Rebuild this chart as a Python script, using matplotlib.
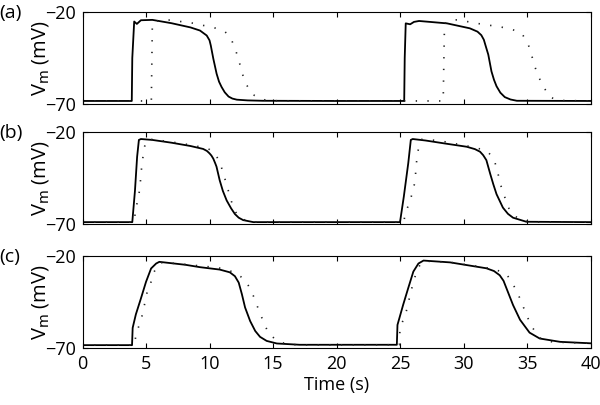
import numpy as np
import matplotlib
matplotlib.use('Agg')
import matplotlib.pyplot as plt

plt.rcParams['font.family'] = ['Open Sans', 'DejaVu Sans']

# panel (a)
t_a_solid = [0, 3.88, 3.92, 4.07, 4.28, 4.6, 5.5, 7.0, 8.5, 9.25, 9.78, 10.0, 10.1, 10.3, 10.56, 10.75, 10.95,
             11.2, 11.5, 11.8, 12.15, 13.0, 14.2, 20.0, 25.33, 25.37, 25.45, 25.8, 26.1, 26.5, 28.7, 30.5, 31.1,
             31.4, 31.6, 31.75, 31.95, 32.2, 32.4, 32.6, 32.9, 33.25, 33.7, 34.2, 40.0]
v_a_solid = [-68.3, -68.3, -45.0, -25.1, -26.4, -24.4, -24.2, -26.0, -28.3, -30.0, -32.7, -35.3, -38.1, -45.3,
             -53.5, -57.8, -60.7, -63.6, -65.9, -67.0, -67.6, -68.0, -68.2, -68.3, -68.3, -45.0, -26.1, -26.6,
             -25.3, -24.8, -26.1, -28.8, -30.6, -32.5, -35.0, -38.5, -43.1, -52.2, -56.8, -60.3, -63.8, -66.2,
             -67.5, -68.2, -68.3]
t_a_dot = [0, 5.42, 5.5, 6.0, 6.8, 7.6, 8.55, 9.5, 10.3, 11.2, 11.45, 11.75, 12.1, 12.35, 12.6, 12.93, 13.4,
           14.2, 15.5, 28.4, 28.5, 28.6, 29.2, 29.6, 30.2, 31.05, 32.0, 32.9, 33.8, 34.3, 34.65, 35.1, 35.35,
           35.6, 35.9, 36.3, 36.8, 37.5, 40.0]
v_a_dot = [-68.3, -68.3, -26.0, -24.5, -24.3, -25.0, -25.8, -27.2, -28.3, -30.5, -32.3, -35.3, -41.6, -47.3,
           -53.8, -59.7, -64.8, -67.6, -68.3, -68.3, -27.0, -25.5, -24.2, -24.2, -25.0, -26.1, -27.1, -28.0,
           -29.4, -30.5, -32.2, -37.6, -43.1, -49.3, -55.0, -60.6, -66.2, -68.0, -68.3]

# panel (b)
t_b_solid = [0, 3.92, 4.13, 4.3, 4.44, 4.6, 5.5, 7.0, 8.5, 9.5, 9.8, 10.0, 10.15, 10.3, 10.45, 10.55, 10.8,
             11.05, 11.35, 11.7, 12.0, 12.3, 12.65, 13.45, 25.0, 25.3, 25.65, 25.85, 26.0, 27.0, 28.5, 30.25,
             30.9, 31.3, 31.55, 31.8, 32.1, 32.35, 32.6, 33.1, 33.5, 33.9, 34.95, 40.0]
v_b_solid = [-69.0, -69.0, -52.0, -33.5, -24.3, -23.8, -24.3, -25.8, -27.6, -29.2, -30.3, -31.6, -32.8, -34.5,
             -37.0, -38.8, -46.2, -52.0, -57.2, -61.5, -64.6, -66.6, -67.9, -69.0, -69.0, -55.1, -36.9, -24.3,
             -23.8, -24.6, -26.2, -28.0, -29.3, -30.7, -32.6, -35.3, -42.7, -48.5, -53.8, -61.1, -64.5, -66.6,
             -68.8, -69.0]
t_b_dot = [0, 4.1, 4.15, 4.4, 4.54, 4.6, 4.7, 4.84, 5.0, 5.5, 7.0, 8.5, 9.5, 10.0, 10.3, 10.55, 10.8, 11.1,
           11.35, 11.6, 11.87, 12.2, 12.6, 13.5, 25.3, 25.4, 25.7, 26.0, 26.2, 26.25, 26.35, 26.5, 26.7, 28.0,
           31.0, 31.9, 32.2, 32.45, 32.7, 32.9, 33.2, 33.5, 33.9, 34.5, 35.5, 40.0]
v_b_dot = [-69.0, -69.0, -62.8, -55.9, -49.0, -42.9, -36.6, -29.6, -24.5, -24.0, -25.4, -27.0, -28.4, -29.5,
           -31.1, -33.2, -36.2, -42.7, -48.8, -54.7, -61.1, -65.2, -67.5, -69.0, -69.0, -64.6, -59.1, -52.6,
           -46.2, -39.7, -33.2, -27.1, -24.0, -24.6, -28.5, -30.7, -33.0, -35.9, -42.1, -48.3, -54.4, -60.7,
           -65.0, -67.8, -69.0, -69.0]

# panel (c)
t_c_solid = [0, 3.9, 3.95, 4.2, 4.6, 5.0, 5.4, 5.8, 6.05, 8.1, 9.25, 10.8, 11.6, 12.0, 12.3, 12.55, 12.8, 13.2,
             13.6, 13.98, 14.5, 15.3, 17.1, 24.75, 24.8, 25.25, 25.65, 26.05, 26.45, 26.85, 28.95, 31.8, 32.4,
             32.85, 33.15, 33.4, 33.9, 34.45, 35.2, 36.0, 37.6, 40.0]
v_c_solid = [-68.5, -68.5, -59.1, -51.8, -43.1, -34.1, -26.8, -24.1, -23.2, -24.8, -26.1, -27.4, -28.9, -31.0,
             -34.5, -40.8, -48.0, -55.4, -60.8, -64.0, -66.2, -67.6, -68.3, -68.3, -57.5, -46.5, -37.4, -28.5,
             -24.1, -22.5, -23.5, -26.7, -28.2, -30.5, -33.5, -37.9, -46.7, -54.7, -61.7, -64.9, -66.7, -67.5]
t_c_dot = [0, 4.1, 4.2, 4.47, 4.74, 4.92, 5.1, 5.37, 5.63, 5.95, 6.3, 8.1, 10.7, 11.2, 12.0, 12.8, 13.25, 13.6,
           13.9, 14.25, 14.6, 15.25, 16.0, 17.0, 24.95, 25.0, 25.4, 25.6, 25.8, 26.05, 26.3, 26.6, 27.0, 29.0,
           31.8, 32.6, 33.4, 33.9, 34.3, 34.65, 35.0, 35.4, 36.0, 37.0, 40.0]
v_c_dot = [-68.5, -68.5, -63.1, -57.4, -51.4, -45.1, -39.3, -34.7, -28.8, -24.5, -23.5, -24.6, -26.4, -27.4,
           -28.9, -33.0, -38.4, -44.1, -50.0, -55.7, -61.4, -65.9, -67.8, -68.4, -68.3, -58.8, -52.6, -47.2,
           -40.9, -34.4, -28.5, -24.5, -22.8, -23.5, -26.4, -27.6, -30.0, -35.4, -40.8, -46.7, -52.8, -58.7,
           -64.6, -66.8, -67.5]

panels = [('(a)', t_a_solid, v_a_solid, t_a_dot, v_a_dot),
          ('(b)', t_b_solid, v_b_solid, t_b_dot, v_b_dot),
          ('(c)', t_c_solid, v_c_solid, t_c_dot, v_c_dot)]

fig = plt.figure(figsize=(6, 4.05), dpi=100)
bottoms = [0.743, 0.447, 0.141]

for i, (lab, ts, vs, td, vd) in enumerate(panels):
    ax = fig.add_axes([0.1375, bottoms[i], 0.8467, 0.227])
    ax.plot(ts, vs, color='k', lw=1.3)
    ax.plot(td, vd, color='#222222', lw=1.2, linestyle=(0, (0.8, 6.2)))
    ax.set_xlim(0, 40)
    ax.set_ylim(-70, -20)
    ax.set_xticks(np.arange(0, 41, 5))
    ax.set_yticks([-70, -20])
    ax.tick_params(direction='in', top=True, right=True, length=3.5, width=0.8,
                   labelsize=13, pad=5)
    for s in ax.spines.values():
        s.set_linewidth(0.8)
    if i < 2:
        ax.set_xticklabels([])
    else:
        ax.set_xlabel('Time (s)', fontsize=13, labelpad=2)
    ax.set_ylabel(r'V$_\mathrm{m}$ (mV)', fontsize=14.5)
    ax.yaxis.set_label_coords(-0.062, 0.5)
    ax.text(-0.163, 0.99, lab, transform=ax.transAxes, fontsize=14, ha='left', va='center')

fig.savefig('out.png', dpi=100)
